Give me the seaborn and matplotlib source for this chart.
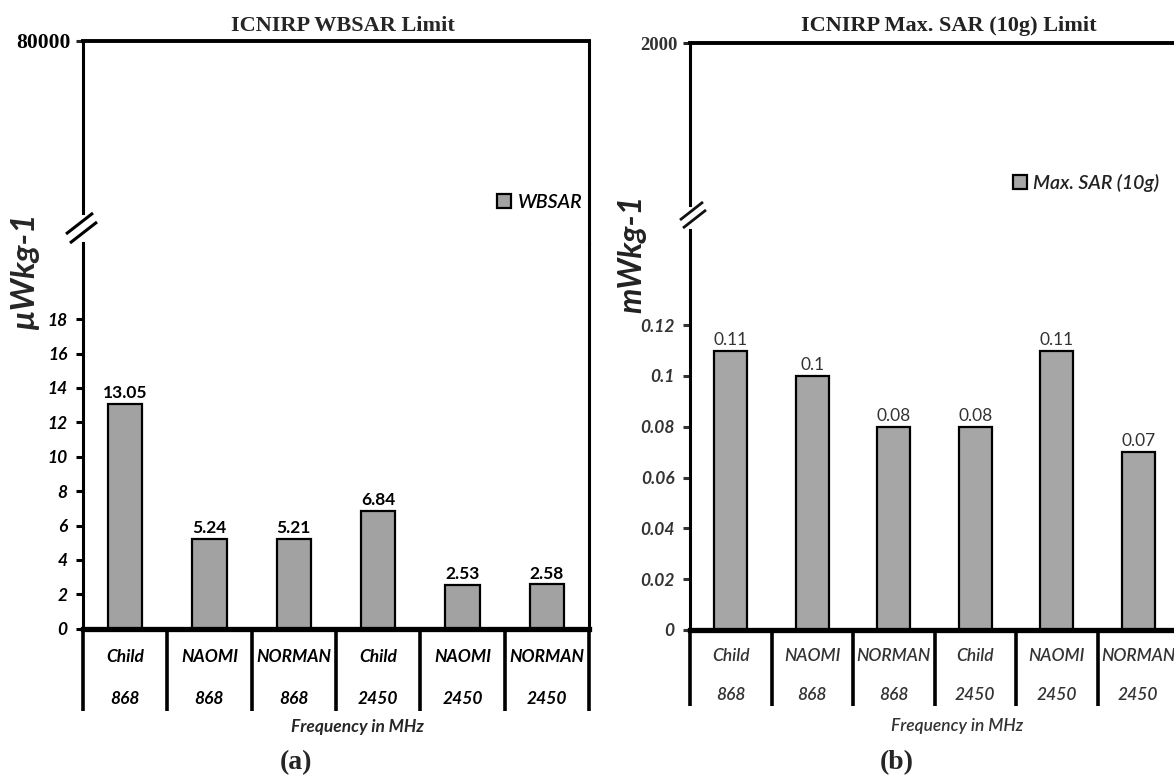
import matplotlib
matplotlib.use("Agg")
import matplotlib.pyplot as plt
import matplotlib.transforms as mtransforms
from matplotlib.lines import Line2D
import seaborn as sns
import pandas as pd

# ---------------- data ----------------
models = ["Child", "NAOMI", "NORMAN", "Child", "NAOMI", "NORMAN"]
freqs = ["868", "868", "868", "2450", "2450", "2450"]
wbsar = [13.05, 5.24, 5.21, 6.84, 2.53, 2.58]
maxsar10g = [0.11, 0.10, 0.08, 0.08, 0.11, 0.07]
wb_ticks = [0, 2, 4, 6, 8, 10, 12, 14, 16, 18]
wb_ticklabels = ["0", "2", "4", "6", "8", "10", "12", "14", "16", "18"]
sar_ticks = [0, 0.02, 0.04, 0.06, 0.08, 0.10, 0.12]
sar_ticklabels = ["0", "0.02", "0.04", "0.06", "0.08", "0.1", "0.12"]
wb_limit = 80000
sar_limit = 2000
title_a = "ICNIRP WBSAR Limit"
title_b = "ICNIRP Max. SAR (10g) Limit"
ylabel_a = "\u00b5Wkg-1"
ylabel_b = "mWkg-1"
xlabel = "Frequency in MHz"

sns.set_theme(style="white")
plt.rcParams['font.family'] = ['Lato', 'DejaVu Sans']

W, H = 1174, 776
fig = plt.figure(figsize=(W / 100, H / 100), dpi=100)


def rect(x0, y0, x1, y1):
    return [x0 / W, 1 - y1 / H, (x1 - x0) / W, (y1 - y0) / H]


def fig_line(pts, lw, color):
    xs = [p[0] / W for p in pts]
    ys = [1 - p[1] / H for p in pts]
    fig.add_artist(Line2D(xs, ys, transform=fig.transFigure, lw=lw,
                          color=color, solid_capstyle='butt'))


def panel(xl, xr, y_top, y_ub, y_lb, y_zero, y_table, y_row1, y_row2,
          px_per_unit, values, ticks, ticklabels, limit, series_label,
          bar_color, bar_w, tcol, value_weight, cat_weight, limit_size):
    cats = [f"{m} {f}" for m, f in zip(models, freqs)]
    df = pd.DataFrame({"cat": cats, "val": values})

    axL = fig.add_axes(rect(xl, y_lb, xr, y_zero))
    sns.barplot(data=df, x="cat", y="val", ax=axL, color=bar_color,
                saturation=1, width=bar_w, edgecolor='black', linewidth=1.6,
                label=series_label)
    if axL.get_legend() is not None:
        axL.get_legend().remove()
    axL.set_xlim(-0.5, 5.5)
    axL.set_ylim(0, (y_zero - y_lb) / px_per_unit)
    axL.set_facecolor('none')
    axL.set_xlabel("")
    axL.set_ylabel("")
    axL.set_xticks([])
    axL.set_yticks(ticks)
    axL.set_yticklabels(ticklabels, fontsize=12.5, fontweight='bold',
                        fontstyle='italic', color=tcol)
    axL.tick_params(axis='y', direction='out', length=5, width=2.2,
                    pad=6, colors=tcol, left=True)
    axL.spines['top'].set_visible(False)
    axL.spines['left'].set_linewidth(2.2)
    axL.spines['right'].set_linewidth(2.2)
    axL.spines['bottom'].set_linewidth(3.8)
    for s in axL.spines.values():
        s.set_color('black')

    axL.bar_label(axL.containers[0], labels=[f"{v:g}" for v in values],
                  padding=2, fontsize=12.5, fontweight=value_weight, color=tcol)

    # category table beneath the axis
    ax_h = y_zero - y_lb
    trans = mtransforms.blended_transform_factory(axL.transData, axL.transAxes)
    f_table = -(y_table - y_zero) / ax_h
    for b in [i - 0.5 for i in range(len(values) + 1)]:
        axL.add_line(Line2D([b, b], [0, f_table], transform=trans,
                            clip_on=False, color='black', lw=2.6,
                            solid_capstyle='butt'))
    r1 = -(y_row1 - y_zero) / ax_h
    r2 = -(y_row2 - y_zero) / ax_h
    for i, (m, f) in enumerate(zip(models, freqs)):
        axL.text(i, r1, m, transform=trans, ha='center', va='center',
                 fontsize=12.5, fontweight=cat_weight, fontstyle='italic',
                 color=tcol, clip_on=False)
        axL.text(i, r2, f, transform=trans, ha='center', va='center',
                 fontsize=12.5, fontweight=cat_weight, fontstyle='italic',
                 color=tcol, clip_on=False)

    # upper (broken) part of the axis with the ICNIRP limit
    axU = fig.add_axes(rect(xl, y_top, xr, y_lb))
    axU.set_facecolor('none')
    axU.set_xlim(-0.5, 5.5)
    axU.set_ylim(0, limit)
    axU.set_xticks([])
    axU.set_yticks([limit])
    axU.set_yticklabels([str(limit)], fontsize=limit_size,
                        fontweight='bold', family='Liberation Serif',
                        color=tcol)
    axU.tick_params(axis='y', direction='out', length=5, width=2.2, pad=4,
                    left=True)
    axU.spines['bottom'].set_visible(False)
    axU.spines['top'].set_linewidth(2.8)
    axU.spines['right'].set_linewidth(2.2)
    axU.spines['left'].set_linewidth(2.2)
    axU.spines['left'].set_bounds(limit * (y_lb - y_ub) / (y_lb - y_top), limit)
    for s in axU.spines.values():
        s.set_color('black')
    return axL, axU


# ---------------- panel (a) ----------------
axLa, axUa = panel(83, 589, 41, 213, 243, 628.7, 711, 657, 699, 17.2,
                   wbsar, wb_ticks, wb_ticklabels, wb_limit, "WBSAR",
                   '#a2a2a2', 0.41, 'black', 'bold', 'bold', 15.5)
fig_line([(66, 234), (93, 213)], 2.2, 'black')
fig_line([(70, 243), (97, 222)], 2.2, 'black')

# ---------------- panel (b) ----------------
axLb, axUb = panel(690, 1179, 43, 205, 230, 630, 706, 656, 695, 2540.0,
                   maxsar10g, sar_ticks, sar_ticklabels, sar_limit,
                   "Max. SAR (10g)", '#a6a6a6', 0.40, '#333333', 'normal',
                   'semibold', 13.5)
fig_line([(680, 220), (703, 202)], 2.0, '#111111')
fig_line([(683, 228), (706, 210)], 2.0, '#111111')

# ---------------- texts ----------------
fig.text(343 / W, 1 - 26 / H, title_a, ha='center', va='center',
         family='Liberation Serif', fontweight='bold', fontsize=16)
fig.text(949 / W, 1 - 26 / H, title_b, ha='center', va='center',
         family='Liberation Serif', fontweight='bold', fontsize=16,
         color='#222222')
fig.text(25 / W, 1 - 271 / H, ylabel_a, rotation=90, ha='center',
         va='center', fontsize=24, fontweight='bold', fontstyle='italic')
fig.text(632 / W, 1 - 254 / H, ylabel_b, rotation=90, ha='center',
         va='center', fontsize=23, fontweight='bold', fontstyle='italic',
         color='#222222')
fig.text(357 / W, 1 - 727 / H, xlabel, ha='center', va='center',
         fontsize=12.5, fontweight='bold', fontstyle='italic')
fig.text(957 / W, 1 - 726 / H, xlabel, ha='center', va='center',
         fontsize=12.5, fontweight='semibold', fontstyle='italic',
         color='#333333')
fig.text(296 / W, 1 - 763 / H, "(a)", ha='center', va='center',
         family='Liberation Serif', fontweight='bold', fontsize=20)
fig.text(897 / W, 1 - 763 / H, "(b)", ha='center', va='center',
         family='Liberation Serif', fontweight='bold', fontsize=20)

# legends
for ax, x0, y0, col in [(axLa, 497, 202, 'black'), (axLb, 1013, 183, '#222222')]:
    h, l = ax.get_legend_handles_labels()
    leg = fig.legend(h, l, loc='center left',
                     bbox_to_anchor=(x0 / W, 1 - y0 / H), frameon=False,
                     handlelength=0.7, handleheight=0.7, handletextpad=0.35,
                     borderpad=0, borderaxespad=0,
                     prop={'size': 14, 'style': 'italic', 'weight': 'semibold'})
    for t in leg.get_texts():
        t.set_color(col)

fig.savefig("out.png", dpi=100)
